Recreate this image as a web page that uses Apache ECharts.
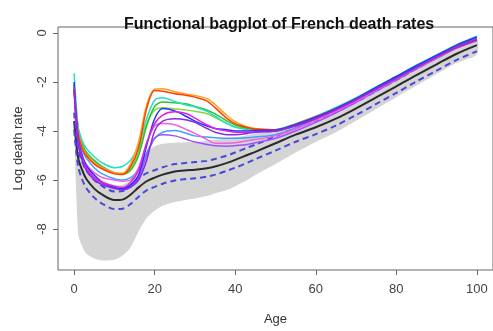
<!DOCTYPE html>
<html>
<head>
<meta charset="utf-8">
<script src="https://cdn.jsdelivr.net/npm/echarts@6/dist/echarts.min.js"></script>
<style>html,body{margin:0;padding:0;background:#fff}#c{width:493px;height:331px}</style>
</head>
<body>
<div id="c"></div>
<script>
const ages = [0,1,2,3,5,7,10,12,14,16,18,20,22,25,28,30,33,35,38,40,43,45,50,55,60,65,70,75,80,85,90,95,100];
const xTicks = [0,20,40,60,80,100];
const yTicks = [-8,-6,-4,-2,0];

const median = [-3.6,-5.1,-5.6,-5.95,-6.35,-6.6,-6.82,-6.8,-6.6,-6.3,-6.05,-5.9,-5.78,-5.65,-5.6,-5.58,-5.52,-5.45,-5.3,-5.18,-4.98,-4.85,-4.5,-4.15,-3.85,-3.5,-3.08,-2.63,-2.18,-1.72,-1.28,-0.85,-0.5];
const dashUpper = [-3.25,-4.75,-5.25,-5.6,-6.0,-6.25,-6.47,-6.45,-6.25,-5.95,-5.72,-5.6,-5.48,-5.35,-5.3,-5.27,-5.22,-5.14,-5.0,-4.88,-4.68,-4.56,-4.22,-3.88,-3.58,-3.23,-2.82,-2.37,-1.92,-1.46,-1.02,-0.6,-0.27];
const dashLower = [-3.95,-5.45,-5.98,-6.32,-6.72,-6.97,-7.18,-7.17,-6.98,-6.68,-6.42,-6.28,-6.15,-6.02,-5.96,-5.93,-5.86,-5.78,-5.62,-5.5,-5.3,-5.15,-4.8,-4.44,-4.13,-3.78,-3.35,-2.9,-2.45,-1.98,-1.54,-1.1,-0.75];
const grayUpper = [-2.0,-4.4,-5.0,-5.3,-5.75,-6.0,-6.2,-6.2,-6.0,-5.45,-4.9,-4.62,-4.52,-4.48,-4.46,-4.45,-4.4,-4.36,-4.3,-4.26,-4.17,-4.1,-3.95,-3.78,-3.52,-3.18,-2.78,-2.33,-1.88,-1.43,-1.0,-0.58,-0.25];
const grayLower = [-3.5,-8.2,-8.7,-9.0,-9.2,-9.28,-9.25,-9.08,-8.75,-8.1,-7.55,-7.25,-7.05,-6.9,-6.8,-6.75,-6.65,-6.55,-6.4,-6.25,-6.0,-5.8,-5.35,-4.88,-4.45,-4.05,-3.58,-3.1,-2.62,-2.15,-1.68,-1.22,-0.88];

const outRedOrange = [-2.3,-4.1,-4.7,-5.0,-5.35,-5.55,-5.75,-5.78,-5.45,-4.7,-3.1,-2.35,-2.38,-2.48,-2.55,-2.62,-2.78,-3.05,-3.5,-3.7,-3.86,-3.92,-3.95,-3.72,-3.42,-3.08,-2.68,-2.24,-1.82,-1.38,-0.97,-0.56,-0.25];
const outOrange = [-2.2,-4.0,-4.62,-4.95,-5.3,-5.5,-5.7,-5.72,-5.35,-4.45,-2.95,-2.3,-2.28,-2.4,-2.5,-2.55,-2.68,-2.92,-3.38,-3.62,-3.84,-3.9,-3.96,-3.75,-3.45,-3.1,-2.7,-2.26,-1.84,-1.4,-0.99,-0.58,-0.27];
const outCyan = [-1.65,-3.8,-4.4,-4.7,-5.05,-5.3,-5.5,-5.45,-5.2,-4.6,-3.5,-2.75,-2.65,-2.8,-2.95,-3.02,-3.2,-3.4,-3.7,-3.85,-3.95,-3.98,-3.95,-3.7,-3.4,-3.04,-2.64,-2.2,-1.77,-1.33,-0.92,-0.5,-0.2];
const outGreen = [-2.1,-3.9,-4.5,-4.85,-5.2,-5.45,-5.7,-5.75,-5.6,-5.0,-3.8,-3.0,-2.82,-2.85,-2.9,-3.0,-3.15,-3.3,-3.6,-3.75,-3.9,-3.95,-4.0,-3.78,-3.48,-3.12,-2.72,-2.28,-1.86,-1.42,-1.0,-0.6,-0.3];
const outLightGreen = [-2.15,-3.95,-4.55,-4.9,-5.25,-5.5,-5.72,-5.75,-5.55,-4.85,-3.7,-3.15,-3.05,-3.1,-3.15,-3.2,-3.3,-3.45,-3.7,-3.82,-3.92,-3.96,-3.98,-3.76,-3.46,-3.1,-2.7,-2.27,-1.84,-1.4,-0.98,-0.57,-0.26];
const outBlue = [-2.0,-4.3,-5.0,-5.4,-5.8,-6.1,-6.3,-6.35,-6.2,-5.8,-4.6,-3.5,-3.08,-3.18,-3.42,-3.6,-3.8,-3.9,-3.95,-4.0,-4.0,-3.98,-3.96,-3.74,-3.44,-3.08,-2.68,-2.22,-1.78,-1.34,-0.92,-0.5,-0.18];
const outMagenta = [-2.2,-4.4,-5.1,-5.5,-5.9,-6.1,-6.25,-6.3,-6.1,-5.6,-4.5,-3.7,-3.35,-3.22,-3.3,-3.48,-3.75,-3.9,-4.0,-4.05,-4.05,-4.03,-4.0,-3.8,-3.5,-3.15,-2.74,-2.3,-1.86,-1.42,-1.0,-0.6,-0.3];
const outPurple = [-2.3,-4.5,-5.2,-5.6,-6.0,-6.2,-6.35,-6.4,-6.3,-6.0,-5.2,-4.0,-3.6,-3.5,-3.55,-3.65,-3.9,-4.05,-4.15,-4.15,-4.1,-4.05,-4.0,-3.78,-3.48,-3.12,-2.72,-2.28,-1.84,-1.4,-0.98,-0.58,-0.28];
const outPink = [-2.4,-4.4,-5.0,-5.35,-5.7,-5.9,-6.0,-6.05,-6.0,-5.5,-4.5,-3.8,-3.7,-3.75,-3.95,-4.1,-4.35,-4.5,-4.5,-4.48,-4.4,-4.35,-4.2,-3.92,-3.58,-3.2,-2.78,-2.33,-1.88,-1.44,-1.02,-0.62,-0.32];
const outLightBlue = [-2.3,-4.2,-4.8,-5.1,-5.5,-5.75,-5.95,-6.0,-5.9,-5.6,-4.9,-4.3,-4.05,-3.98,-4.1,-4.2,-4.25,-4.28,-4.3,-4.3,-4.28,-4.25,-4.15,-3.88,-3.52,-3.14,-2.7,-2.24,-1.78,-1.32,-0.9,-0.48,-0.13];
const outViolet = [-2.25,-4.45,-5.15,-5.5,-5.95,-6.15,-6.3,-6.35,-6.25,-5.9,-5.0,-4.3,-4.15,-4.2,-4.35,-4.45,-4.55,-4.6,-4.62,-4.6,-4.55,-4.48,-4.3,-4.0,-3.65,-3.26,-2.83,-2.37,-1.92,-1.47,-1.04,-0.62,-0.3];

const pairs = arr => ages.map((a, i) => [a, arr[i]]);
const font = "'Liberation Sans', Arial, sans-serif";

const outliers = [
  [outLightBlue, '#3fa0ff'],
  [outViolet, '#a050ff'],
  [outPink, '#f060e0'],
  [outLightGreen, '#7fdc3c'],
  [outGreen, '#2fc02f'],
  [outCyan, '#22e0c8'],
  [outOrange, '#ffa020'],
  [outRedOrange, '#ff4000'],
  [outBlue, '#2233ff'],
  [outMagenta, '#dd22dd'],
  [outPurple, '#8a2be2']
];

const series = [
  {type:'custom', silent:true, clip:true, data:[[0, grayUpper[0]]],
   renderItem: function(params, api){
     const pts = [];
     for (let i = 0; i < ages.length; i++) pts.push(api.coord([ages[i], grayUpper[i]]));
     for (let i = ages.length - 1; i >= 0; i--) pts.push(api.coord([ages[i], grayLower[i]]));
     return {type:'polygon', shape:{points:pts, smooth:0.25}, style:{fill:'#d4d4d4', stroke:null}};
   }},
  {type:'line', data: pairs(median), smooth:0.3, symbol:'none', lineStyle:{color:'#2a2a2a', width:2}},
  {type:'line', data: pairs(dashUpper), smooth:0.3, symbol:'none', lineStyle:{color:'#4a46dc', width:2, type:[6,4]}},
  {type:'line', data: pairs(dashLower), smooth:0.3, symbol:'none', lineStyle:{color:'#4a46dc', width:2, type:[6,4]}}
];
outliers.forEach(([arr, col]) => series.push({type:'line', data: pairs(arr), smooth:0.3, symbol:'none', lineStyle:{color:col, width:1.5}}));

const chart = echarts.init(document.getElementById('c'), null, {renderer:'canvas'});
chart.setOption({
  animation:false,
  backgroundColor:'#fff',
  title:{text:'Functional bagplot of French death rates', left:119, top:12, textStyle:{fontFamily:font, fontSize:16, fontWeight:'bold', color:'#111'}},
  grid:{left:58, right:-6, top:27, bottom:55, show:true, borderColor:'#666', borderWidth:1, backgroundColor:'transparent'},
  xAxis:{type:'value', min:-4, max:104, name:'Age', nameLocation:'middle', nameGap:43,
    nameTextStyle:{fontFamily:font, fontSize:13, color:'#333'},
    axisLine:{show:false, onZero:false}, splitLine:{show:false},
    axisTick:{show:true, length:5, customValues:xTicks, lineStyle:{color:'#666'}},
    axisLabel:{customValues:xTicks, fontFamily:font, fontSize:13, color:'#444', margin:13}},
  yAxis:{type:'value', min:-9.67, max:0.24, name:'Log death rate', nameLocation:'middle', nameGap:33,
    nameTextStyle:{fontFamily:font, fontSize:13, color:'#333'},
    axisLine:{show:false, onZero:false}, splitLine:{show:false},
    axisTick:{show:true, length:5, customValues:yTicks, lineStyle:{color:'#666'}},
    axisLabel:{customValues:yTicks, rotate:90, fontFamily:font, fontSize:13, color:'#444', margin:9}},
  series: series
});
</script>
</body>
</html>
